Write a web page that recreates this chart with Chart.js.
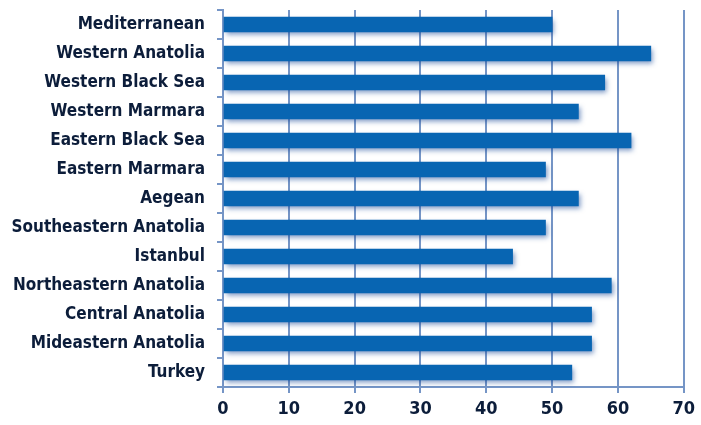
<!DOCTYPE html>
<html>
<head>
<meta charset="utf-8">
<script src="https://cdn.jsdelivr.net/npm/chart.js@4/dist/chart.umd.min.js"></script>
<style>
  html, body { margin: 0; padding: 0; background: #fff; }
  #wrap { width: 701px; height: 425px; position: relative; }
</style>
</head>
<body>
<div id="wrap"><canvas id="chart"></canvas></div>
<script>
// regions top to bottom
const regions = [
  'Mediterranean', 'Western Anatolia', 'Western Black Sea', 'Western Marmara',
  'Eastern Black Sea', 'Eastern Marmara', 'Aegean', 'Southeastern Anatolia',
  'Istanbul', 'Northeastern Anatolia', 'Central Anatolia', 'Mideastern Anatolia', 'Turkey',
];
const values = [50, 65, 58, 54, 62, 49, 54, 49, 44, 59, 56, 56, 53];
const xTicks = [0, 10, 20, 30, 40, 50, 60, 70];

const ink = '#0c1d3a';
const gridBlue = '#7595c6';
const barBlue = '#0865b2';
const labelFont = { family: "'DejaVu Sans Condensed', sans-serif", size: 17, weight: 'bold' };

// soft drop shadow under the bars, like the office-style original
const barShadow = {
  id: 'barShadow',
  beforeDatasetsDraw(chart) {
    const ctx = chart.ctx;
    ctx.save();
    ctx.shadowColor = 'rgba(20, 70, 150, 0.55)';
    ctx.shadowBlur = 5;
    ctx.shadowOffsetX = 2;
    ctx.shadowOffsetY = 3;
  },
  afterDatasetsDraw(chart) { chart.ctx.restore(); },
};

new Chart(document.getElementById('chart'), {
  type: 'bar',
  data: {
    labels: regions,
    datasets: [{ data: values, backgroundColor: barBlue, barThickness: 15, borderWidth: 0 }],
  },
  plugins: [barShadow],
  options: {
    indexAxis: 'y',
    responsive: true, maintainAspectRatio: false, animation: false,
    layout: { padding: { left: 0, top: 10, right: 12, bottom: 0 } },
    plugins: { legend: { display: false }, tooltip: { enabled: false } },
    scales: {
      x: {
        min: 0, max: 70,
        afterBuildTicks: (s) => { s.ticks = xTicks.map((v) => ({ value: v })); },
        afterFit: (s) => { s.height = 38; },
        ticks: { color: ink, font: { ...labelFont, size: 18 }, padding: 6 },
        grid: { color: gridBlue, lineWidth: 2, tickLength: 6 },
        border: { color: gridBlue, width: 2 },
      },
      y: {
        afterFit: (s) => { s.width = 223; s.paddingTop = 0; s.paddingBottom = 0; },
        ticks: { color: ink, font: labelFont, padding: 12 },
        grid: { drawOnChartArea: false, color: gridBlue, lineWidth: 2, tickLength: 6 },
        border: { color: gridBlue, width: 2 },
      },
    },
  },
});
</script>
</body>
</html>
